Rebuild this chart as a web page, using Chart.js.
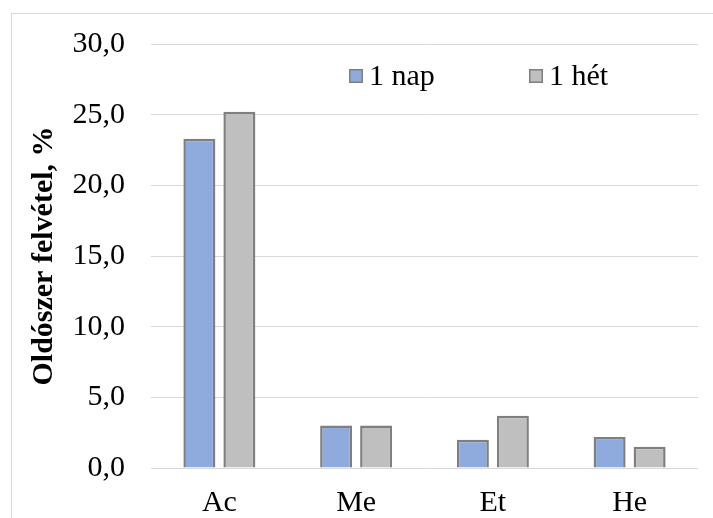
<!DOCTYPE html>
<html>
<head>
<meta charset="utf-8">
<script src="https://cdn.jsdelivr.net/npm/chart.js@4"></script>
<style>
  html, body { margin: 0; padding: 0; background: #fff; }
  #wrap { position: relative; width: 713px; height: 518px; }
  #frame { position: absolute; left: 11px; top: 13px; right: 0; bottom: 0;
           border-top: 1px solid #d9d9d9; border-left: 1px solid #d9d9d9; }
  canvas { position: absolute; left: 0; top: 0; }
</style>
</head>
<body>
<div id="wrap">
  <div id="frame"></div>
  <canvas id="c" width="713" height="518"></canvas>
</div>
<script>
// Solvent uptake after 1 day and after 1 week
const categories = ['Ac', 'Me', 'Et', 'He'];
const seriesNames = ['1 nap', '1 hét'];
const oneDay = [23.3, 3.0, 2.0, 2.2];
const oneWeek = [25.2, 3.0, 3.7, 1.5];
const yTicks = [0, 5, 10, 15, 20, 25, 30];
const yTitle = 'Oldószer felvétel, %';

const FONT = '"Liberation Serif", "Times New Roman", serif';
const SIZE = 30;

// Legend drawn inside the plot area, above the bars
const innerLegend = {
  id: 'innerLegend',
  afterDraw(chart) {
    const ctx = chart.ctx;
    const xs = [349, 529];
    const yMid = 76;
    ctx.save();
    ctx.font = Chart.helpers.toFont({ family: FONT, size: SIZE }).string;
    ctx.textBaseline = 'middle';
    ctx.textAlign = 'left';
    chart.data.datasets.forEach((ds, i) => {
      const x = xs[i];
      ctx.fillStyle = ds.backgroundColor;
      ctx.fillRect(x, yMid - 7, 14, 14);
      ctx.strokeStyle = ds.borderColor;
      ctx.lineWidth = 1.5;
      ctx.strokeRect(x + 0.75, yMid - 6.25, 12.5, 12.5);
      ctx.fillStyle = '#000';
      ctx.fillText(ds.label, x + 20, yMid + 1);
    });
    ctx.restore();
  }
};

new Chart(document.getElementById('c'), {
  type: 'bar',
  data: {
    labels: categories,
    datasets: [
      { label: seriesNames[0], data: oneDay, backgroundColor: '#8faadc', borderColor: '#7f7f7f', borderWidth: 2.5 },
      { label: seriesNames[1], data: oneWeek, backgroundColor: '#bfbfbf', borderColor: '#7f7f7f', borderWidth: 2.5 }
    ]
  },
  options: {
    responsive: false,
    animation: false,
    devicePixelRatio: 1,
    layout: { padding: { left: 11, right: 15, top: 41, bottom: 0 } },
    datasets: { bar: { categoryPercentage: 0.585, barPercentage: 0.8 } },
    plugins: { legend: { display: false }, tooltip: { enabled: false } },
    scales: {
      x: {
        grid: { display: false },
        border: { display: false },
        ticks: { color: '#000', font: { family: FONT, size: SIZE }, padding: 9 },
        afterFit(scale) { scale.height = 50; }
      },
      y: {
        min: 0, max: 30,
        afterBuildTicks(scale) { scale.ticks = yTicks.map(v => ({ value: v })); },
        grid: { color: '#d9d9d9', lineWidth: 1, drawTicks: false },
        border: { display: false },
        ticks: {
          color: '#000', font: { family: FONT, size: SIZE }, padding: 26,
          callback: v => v.toFixed(1).replace('.', ',')
        },
        title: {
          display: true, text: yTitle, color: '#000',
          font: { family: FONT, size: SIZE, weight: 'bold' },
          padding: { top: 15, bottom: 0 }
        },
        afterFit(scale) { scale.width = 140; }
      }
    }
  },
  plugins: [innerLegend]
});
</script>
</body>
</html>
